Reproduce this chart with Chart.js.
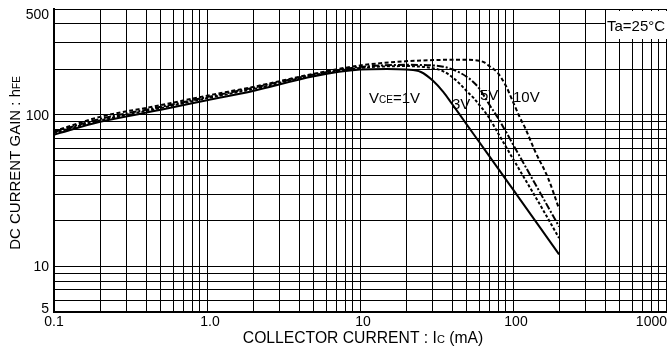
<!DOCTYPE html>
<html>
<head>
<meta charset="utf-8">
<script src="https://cdn.jsdelivr.net/npm/chart.js@4.4.1/dist/chart.umd.min.js"></script>
<style>
  html, body { margin: 0; padding: 0; background: #fff; }
  #wrap { width: 668px; height: 354px; }
</style>
</head>
<body>
<div id="wrap"><canvas id="hfeChart" width="668" height="354"></canvas></div>
<script>
// Collector current (mA) and DC current gain
const current1V  = [0.1, 0.2, 0.5, 1, 2, 5, 10, 15, 20, 25, 30, 35, 40, 45, 50, 60, 70, 80, 100, 150, 200];
const gain1V     = [74, 90, 108, 125, 144, 180, 199, 201, 199, 192, 168, 142, 118, 100, 86, 66.5, 53.4, 44.2, 32.2, 18.1, 12];
const current3V  = [0.1, 0.2, 0.5, 1, 2, 5, 10, 20, 30, 35, 40, 45, 50, 55, 60, 68.7, 80, 100, 125, 150, 200];
const gain3V     = [76, 92, 111, 129, 148, 183, 204, 210, 203, 194, 178, 160, 143, 130, 117, 98, 75.5, 51.3, 35, 25.6, 15.4];
const current5V  = [0.1, 0.2, 0.5, 1, 2, 5, 10, 20, 30, 35, 40, 45, 50, 55, 60, 70, 80, 90, 100, 120, 150, 200];
const gain5V     = [77, 94, 113, 131, 151, 185, 207, 214, 212, 208, 200, 190, 178, 165, 150, 117, 95, 77.3, 63.9, 46, 30.8, 18.3];
const current10V = [0.1, 0.2, 0.5, 1, 2, 5, 10, 20, 30, 40, 50, 60, 65, 70, 75, 80, 90, 100, 111, 120, 140, 170, 200];
const gain10V    = [78, 97, 116, 134, 153, 187, 212, 226, 230, 231, 231, 228, 222, 210, 200, 188, 155, 122, 96, 82, 57, 38, 24];

// Grid lines and tick labels
const xGridValues = [0.1, 0.2, 0.3, 0.4, 0.5, 0.6, 0.7, 0.8, 0.9,
                     1, 2, 3, 4, 5, 6, 7, 8, 9,
                     10, 20, 30, 40, 50, 60, 70, 80, 90,
                     100, 200, 300, 400, 500, 600, 700, 800, 900, 1000];
const yGridValues = [5, 6, 7, 8, 9, 10, 20, 30, 40, 50, 60, 70, 80, 90, 100, 200, 300, 400, 500];
const xTickValues = [0.1, 1, 10, 100, 1000];
const xTickLabels = ["0.1", "1.0", "10", "100", "1000"];
const yTickValues = [5, 10, 100, 500];
const yTickLabels = ["5", "10", "100", "500"];

const FONT = '"Liberation Sans", Arial, sans-serif';

function toPoints(xs, ys) {
  return xs.map((x, i) => ({ x: x, y: ys[i] }));
}

// draw a run of text pieces with different sizes (for subscripts like hFE)
function drawParts(ctx, parts, x, y, align) {
  let total = 0;
  parts.forEach(p => {
    ctx.font = p.size + "px " + FONT;
    total += ctx.measureText(p.t).width;
  });
  let cx = align === "center" ? x - total / 2 : (align === "right" ? x - total : x);
  ctx.textAlign = "left";
  parts.forEach(p => {
    ctx.font = p.size + "px " + FONT;
    ctx.fillText(p.t, cx, y);
    cx += ctx.measureText(p.t).width;
  });
}

const textPlugin = {
  id: "chartText",
  afterDraw(chart) {
    const ctx = chart.ctx;
    const xs = chart.scales.x;
    const ys = chart.scales.y;
    const area = chart.chartArea;
    ctx.save();
    ctx.fillStyle = "#000";
    ctx.textBaseline = "alphabetic";

    // x tick labels
    ctx.font = "14px " + FONT;
    ctx.textAlign = "center";
    xTickValues.forEach((v, i) => {
      const w = ctx.measureText(xTickLabels[i]).width;
      let cx = xs.getPixelForValue(v) + (i > 0 ? 3 : 0);
      cx = Math.min(cx, chart.width - w / 2 - 1);
      ctx.fillText(xTickLabels[i], cx, 326);
    });

    // y tick labels
    ctx.textAlign = "right";
    yTickValues.forEach((v, i) => {
      let by = ys.getPixelForValue(v) + 5;
      by = Math.max(by, area.top + 10);
      by = Math.min(by, area.bottom + 1);
      ctx.fillText(yTickLabels[i], 49, by);
    });

    // axis titles
    drawParts(ctx, [
      { t: "COLLECTOR CURRENT : I", size: 15.7 },
      { t: "C", size: 11 },
      { t: " (mA)", size: 15.7 }
    ], 363, 343, "center");

    ctx.save();
    ctx.translate(15, 163);
    ctx.rotate(-Math.PI / 2);
    drawParts(ctx, [
      { t: "DC CURRENT GAIN : h", size: 15 },
      { t: "FE", size: 10 }
    ], 0, 5, "center");
    ctx.restore();

    // Ta box
    ctx.fillStyle = "#fff";
    ctx.fillRect(606, area.top + 2, chart.width - 606, 28);
    ctx.fillStyle = "#000";
    drawParts(ctx, [{ t: "Ta=25°C", size: 15 }], 607, 31, "left");

    // curve labels
    drawParts(ctx, [
      { t: "V", size: 15 }, { t: "CE", size: 10 }, { t: "=1V", size: 15 }
    ], 369, 103, "left");
    drawParts(ctx, [{ t: "3V", size: 15 }], 452, 109, "left");
    drawParts(ctx, [{ t: "5V", size: 15 }], 480, 100, "left");
    drawParts(ctx, [{ t: "10V", size: 15 }], 513, 102, "left");

    ctx.restore();
  }
};

function curve(label, xs, ys, dash) {
  return {
    label: label,
    data: toPoints(xs, ys),
    borderColor: "#000",
    borderWidth: 2,
    borderDash: dash,
    fill: false,
    pointRadius: 0,
    cubicInterpolationMode: "monotone"
  };
}

const ctx = document.getElementById("hfeChart").getContext("2d");
new Chart(ctx, {
  type: "line",
  data: {
    datasets: [
      curve("VCE=1V", current1V, gain1V, []),
      curve("3V", current3V, gain3V, [3, 2]),
      curve("5V", current5V, gain5V, [7, 2, 2, 2]),
      curve("10V", current10V, gain10V, [4, 2.5])
    ]
  },
  options: {
    responsive: false,
    animation: false,
    layout: { padding: { top: 9, right: 2, left: 0, bottom: 0 } },
    plugins: {
      legend: { display: false },
      tooltip: { enabled: false }
    },
    scales: {
      x: {
        type: "logarithmic",
        min: 0.1,
        max: 1000,
        afterBuildTicks: function(scale) {
          scale.ticks = xGridValues.map(v => ({ value: v }));
        },
        afterFit: function(scale) {
          scale.height = 42;
          scale.paddingLeft = 0;
          scale.paddingRight = 0;
        },
        ticks: { display: false },
        grid: { color: "#000", lineWidth: 1, drawTicks: false },
        border: { color: "#000", width: 2 }
      },
      y: {
        type: "logarithmic",
        min: 5,
        max: 500,
        afterBuildTicks: function(scale) {
          scale.ticks = yGridValues.map(v => ({ value: v }));
        },
        afterFit: function(scale) {
          scale.width = 54;
          scale.paddingTop = 0;
          scale.paddingBottom = 0;
        },
        ticks: { display: false },
        grid: { color: "#000", lineWidth: 1, drawTicks: false },
        border: { color: "#000", width: 2 }
      }
    }
  },
  plugins: [textPlugin]
});
</script>
</body>
</html>
